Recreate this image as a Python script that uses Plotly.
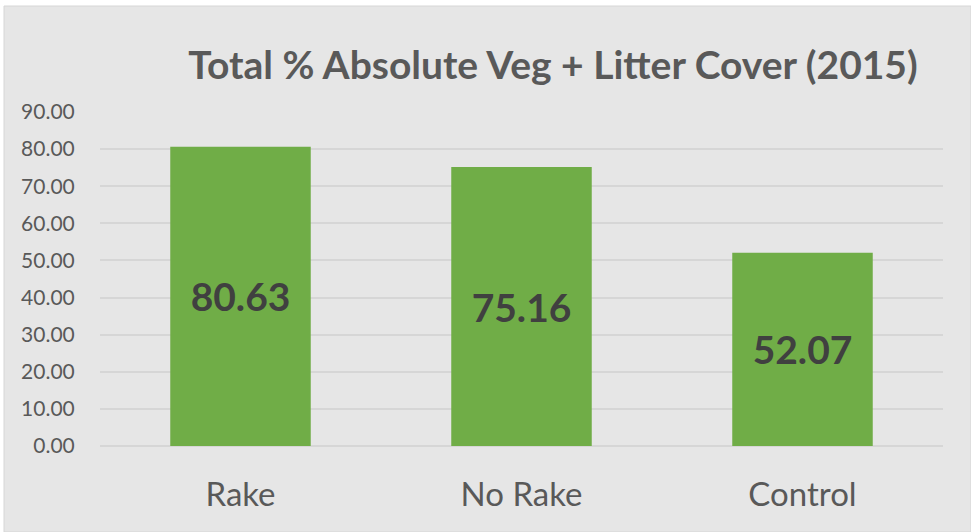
import plotly.graph_objects as go

categories = ["Rake", "No Rake", "Control"]
values = [80.63, 75.16, 52.07]
y_ticks = [0, 10, 20, 30, 40, 50, 60, 70, 80, 90]
y_tick_labels = [f"{v:.2f}" for v in y_ticks]

W, H = 971, 532
ML, MR, MT, MB = 100, 28, 112, 86
PW, PH = W - ML - MR, H - MT - MB

def px_x(p):
    return (p - ML) / PW

def px_y(p):
    return (H - MB - p) / PH

BG = "#e6e6e6"
GREEN = "#70ad47"
TEXT = "#595959"
FONT = "Lato"

fig = go.Figure(
    go.Bar(
        x=categories,
        y=values,
        width=0.5,
        marker=dict(color=GREEN, line=dict(width=0)),
        text=[f"{v:.2f}" for v in values],
        textposition="inside",
        insidetextanchor="middle",
        textangle=0,
        textfont=dict(family=FONT, size=39, color="#404040", weight="bold"),
    )
)

# grey chart panel with a thin border, leaving a white strip at top and left
fig.add_shape(
    type="rect", xref="paper", yref="paper",
    x0=px_x(4), x1=px_x(971), y0=px_y(532), y1=px_y(6),
    fillcolor=BG, line=dict(color="#d6d6d6", width=1), layer="below",
)

fig.update_layout(
    width=W, height=H,
    margin=dict(l=ML, r=MR, t=MT, b=MB),
    paper_bgcolor="white",
    plot_bgcolor=BG,
    showlegend=False,
    bargap=0.5,
    title=dict(
        text="Total % Absolute Veg + Litter Cover (2015)",
        x=553 / W, xanchor="center",
        y=1 - 65 / H, yanchor="middle",
        font=dict(family=FONT, size=39, color=TEXT, weight="bold"),
    ),
    uniformtext=dict(mode=False),
)

fig.update_xaxes(
    tickfont=dict(family=FONT, size=33, color=TEXT),
    showgrid=False, zeroline=False, showline=False,
    ticks="outside", ticklen=19, tickcolor="rgba(0,0,0,0)",
)
fig.update_yaxes(
    range=[0, 90],
    tickvals=y_ticks, ticktext=y_tick_labels,
    tickfont=dict(family=FONT, size=21, color=TEXT),
    showgrid=True, gridcolor="#d6d6d6", gridwidth=2,
    zeroline=True, zerolinecolor="#d6d6d6", zerolinewidth=2,
    showline=False,
    ticks="outside", ticklen=20, tickcolor="rgba(0,0,0,0)",
)

fig.write_html("out.html")
